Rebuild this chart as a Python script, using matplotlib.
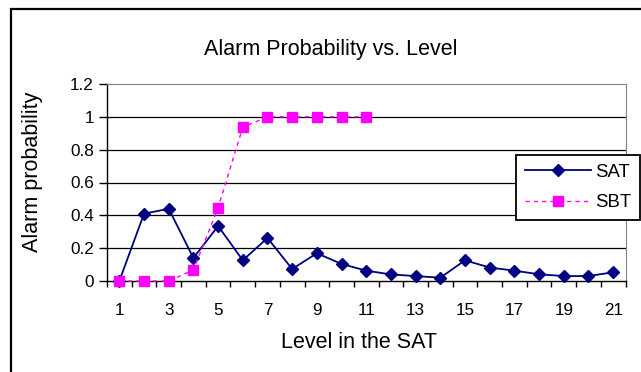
#!/usr/bin/env python
import matplotlib
matplotlib.use('Agg')
import matplotlib.pyplot as plt
from matplotlib.patches import Rectangle

levels = list(range(1, 22))
sat = [0.0, 0.41, 0.44, 0.14, 0.335, 0.126, 0.262, 0.073, 0.169, 0.104, 0.063,
       0.04, 0.03, 0.02, 0.126, 0.082, 0.063, 0.041, 0.03, 0.03, 0.053]
sbt_levels = list(range(1, 12))
sbt = [0.0, 0.0, 0.0, 0.067, 0.447, 0.937, 1.0, 1.0, 1.0, 1.0, 1.0]

title = 'Alarm Probability vs. Level'
xlabel = 'Level in the SAT'
ylabel = 'Alarm probability'
yticks = [0, 0.2, 0.4, 0.6, 0.8, 1.0, 1.2]
ytick_labels = ['0', '0.2', '0.4', '0.6', '0.8', '1', '1.2']

W, H = 641, 372
plt.rcParams['font.family'] = ['Liberation Sans', 'DejaVu Sans']


def fx(px):
    return px / W


def fy(py):
    return 1 - py / H


def main():
    fig = plt.figure(figsize=(W / 100, H / 100), dpi=100)
    ax = fig.add_axes([fx(107), fy(281), fx(625.5) - fx(107), fy(84) - fy(281)])

    # outer chart frame (runs off right and bottom)
    fig.add_artist(Rectangle((fx(11), -0.5), 2, fy(9) + 0.5, transform=fig.transFigure,
                             fill=False, edgecolor='black', linewidth=1.6))

    ax.plot(levels, sat, color='#000080', linewidth=1.3, marker='D', markersize=6,
            markerfacecolor='#000080', markeredgecolor='#000080', clip_on=False,
            label='SAT', zorder=3)
    ax.plot(sbt_levels, sbt, color='#FF00FF', linewidth=1.0, linestyle=(0, (3, 3)),
            marker='s', markersize=6.5, markerfacecolor='#FF00FF',
            markeredgecolor='#FF00FF', clip_on=False, label='SBT', zorder=4)

    ax.set_xlim(0.5, 21.5)
    ax.set_ylim(0, 1.2)

    ax.set_xticks(levels[::2])
    ax.set_xticklabels([str(v) for v in levels[::2]])
    ax.set_xticks([v + 0.5 for v in range(0, 22)], minor=True)
    ax.tick_params(axis='x', which='major', length=0, pad=15.5, labelsize=12.3)
    ax.tick_params(axis='x', which='minor', length=4, width=1, direction='out', color='black')

    ax.set_yticks(yticks)
    ax.set_yticklabels(ytick_labels)
    ax.tick_params(axis='y', length=6, width=1, pad=3.5, labelsize=12.3, color='black')

    for y in yticks[1:-1]:
        ax.axhline(y, color='black', linewidth=0.9, zorder=1)

    ax.spines['left'].set_color('black')
    ax.spines['bottom'].set_color('black')
    ax.spines['left'].set_linewidth(1.0)
    ax.spines['bottom'].set_linewidth(1.0)
    ax.spines['top'].set_color('#808080')
    ax.spines['right'].set_color('#808080')

    fig.text(fx(330.5), fy(54.5), title, ha='center', va='baseline', fontsize=15.5)
    fig.text(fx(358.8), fy(348.3), xlabel, ha='center', va='baseline', fontsize=15.5)
    fig.text(fx(33), fy(252), ylabel, ha='center', va='bottom', rotation=90, fontsize=15.5)

    leg = ax.legend(loc='upper left', bbox_to_anchor=(fx(516), fy(155)),
                    bbox_transform=fig.transFigure, fontsize=13.4, frameon=True,
                    fancybox=False, framealpha=1, edgecolor='black', borderaxespad=0,
                    borderpad=0.47, handlelength=3.55, handletextpad=0.25,
                    labelspacing=0.71)
    leg.get_frame().set_linewidth(1.3)

    fig.savefig('out.png', dpi=100)


if __name__ == '__main__':
    main()
